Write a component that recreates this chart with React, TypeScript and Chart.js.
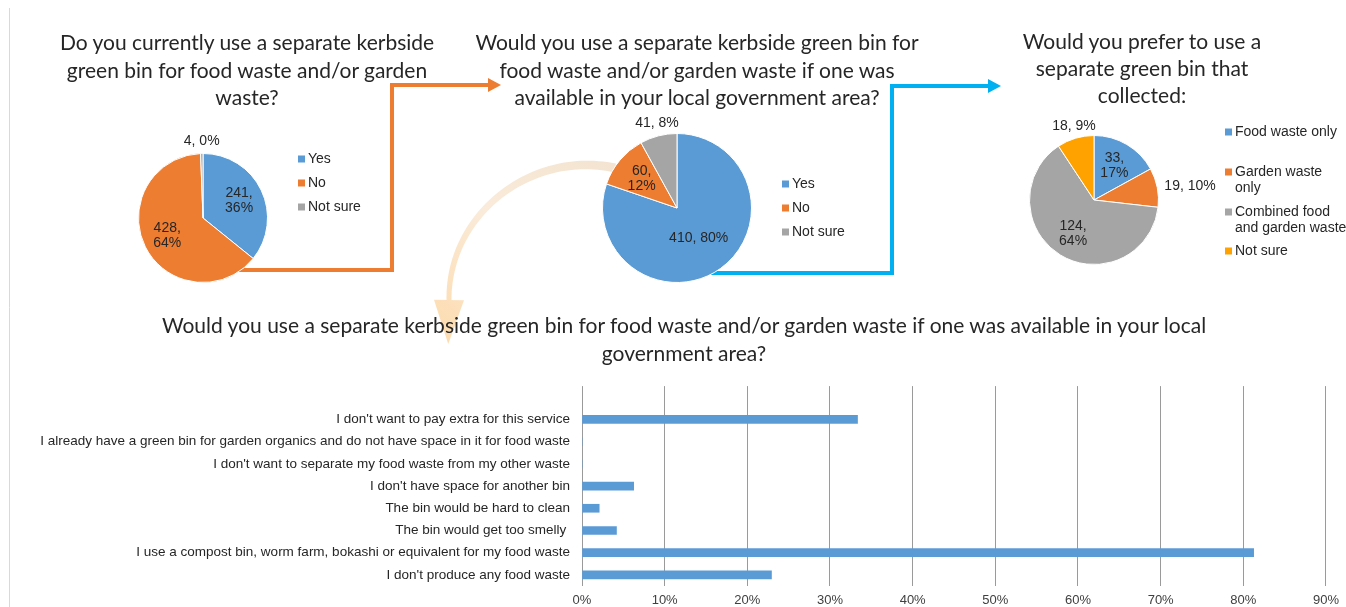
import React, { useEffect, useRef } from "react";
import { Chart, registerables } from "chart.js";

Chart.register(...registerables);

// ---------- DATA ----------
const pie1Title = ["Do you currently use a separate kerbside", "green bin for food waste and/or garden", "waste?"];
const pie1Legend = [["Yes"], ["No"], ["Not sure"]];
const pie1Values = [241, 428, 4];
const pie1Percents = [36, 64, 0];

const pie2Title = ["Would you use a separate kerbside green bin for", "food waste and/or garden waste if one was", "available in your local government area?"];
const pie2Legend = [["Yes"], ["No"], ["Not sure"]];
const pie2Values = [410, 60, 41];
const pie2Percents = [80, 12, 8];

const pie3Title = ["Would you prefer to use a", "separate green bin that", "collected:"];
const pie3Legend = [["Food waste only"], ["Garden waste", "only"], ["Combined food", "and garden waste"], ["Not sure"]];
const pie3Values = [33, 19, 124, 18];
const pie3Percents = [17, 10, 64, 9];

const barTitle = ["Would you use a separate kerbside green bin for food waste and/or garden waste if one was available in your local", "government area?"];
const barCategories = [
  "",
  "I don't want to pay extra for this service",
  "I already have a green bin for garden organics and do not have space in it for food waste",
  "I don't want to separate my food waste from my other waste",
  "I don't have space for another bin",
  "The bin would be hard to clean",
  "The bin would get too smelly ",
  "I use a compost bin, worm farm, bokashi or equivalent for my food waste",
  "I don't produce any food waste",
];
const barValues = [null, 33.33, 0, 0, 6.25, 2.08, 4.17, 81.25, 22.92];
const xAxisMax = 90;
const xAxisStep = 10;

// ---------- STYLE ----------
const FONT = '"Liberation Sans", Arial, sans-serif';
const TITLE_FONT = 'Lato, "Open Sans", sans-serif';
const TEXT = "#262626";
const pieColors3 = ["#5B9BD5", "#ED7D31", "#A5A5A5"];
const pieColors4 = ["#5B9BD5", "#ED7D31", "#A5A5A5", "#FFA200"];

type PieLayout = {
  left: number; top: number; width: number; height: number;
  cx: number; cy: number; r: number;
  legendX: number; legendY: number[];
};

const pie1Layout: PieLayout = { left: 100, top: 120, width: 340, height: 180, cx: 203, cy: 218, r: 65, legendX: 298, legendY: [159, 183, 207] };
const pie2Layout: PieLayout = { left: 560, top: 108, width: 320, height: 192, cx: 677, cy: 208, r: 75, legendX: 782, legendY: [184, 208, 232] };
const pie3Layout: PieLayout = { left: 1000, top: 110, width: 346, height: 180, cx: 1094, cy: 200, r: 65, legendX: 1225, legendY: [132, 172, 212, 251] };

function PieChart({ values, percents, legend, colors, layout }: { values: number[]; percents: number[]; legend: string[][]; colors: string[]; layout: PieLayout }) {
  const ref = useRef<HTMLCanvasElement>(null);
  useEffect(() => {
    const { left, top, width, height, cx, cy, r } = layout;
    const total = values.reduce((a, b) => a + b, 0);
    const labelPlugin = {
      id: "pieLabels",
      afterDatasetsDraw(chart: any) {
        const ctx = chart.ctx as CanvasRenderingContext2D;
        const meta = chart.getDatasetMeta(0);
        ctx.save();
        ctx.font = `14px ${FONT}`;
        ctx.fillStyle = TEXT;
        meta.data.forEach((arc: any, i: number) => {
          const p = arc.getProps(["x", "y", "startAngle", "endAngle", "outerRadius"], true);
          const mid = (p.startAngle + p.endAngle) / 2;
          const c = Math.cos(mid), s = Math.sin(mid);
          const frac = values[i] / total;
          if (frac < 0.11) {
            const ax = p.x + c * p.outerRadius * 1.08;
            const ay = p.y + s * p.outerRadius * 1.08;
            const text = `${values[i]}, ${percents[i]}%`;
            if (Math.abs(c) > 0.7) {
              ctx.textAlign = c > 0 ? "left" : "right";
              ctx.textBaseline = "middle";
              ctx.fillText(text, ax + (c > 0 ? 2 : -2), ay);
            } else {
              ctx.textAlign = "center";
              ctx.textBaseline = s < 0 ? "bottom" : "top";
              ctx.fillText(text, ax, ay);
            }
          } else {
            const k = frac > 0.7 ? 0.5 : 0.62;
            const ix = p.x + c * p.outerRadius * k;
            const iy = p.y + s * p.outerRadius * k;
            ctx.textAlign = "center";
            ctx.textBaseline = "middle";
            if (frac < 0.7) {
              ctx.fillText(`${values[i]},`, ix, iy - 7.5);
              ctx.fillText(`${percents[i]}%`, ix, iy + 7.5);
            } else {
              ctx.fillText(`${values[i]}, ${percents[i]}%`, ix, iy);
            }
          }
        });
        legend.forEach((lines, i) => {
          const lx = layout.legendX - left;
          const ly = layout.legendY[i] - top;
          ctx.fillStyle = colors[i];
          ctx.fillRect(lx, ly - 3.5, 7, 7);
          ctx.fillStyle = TEXT;
          ctx.textAlign = "left";
          ctx.textBaseline = "middle";
          lines.forEach((ln, k) => ctx.fillText(ln, lx + 10, ly + k * 16));
        });
        ctx.restore();
      },
    };
    const chart = new Chart(ref.current as HTMLCanvasElement, {
      type: "pie",
      data: {
        labels: legend.map((l) => l.join(" ")),
        datasets: [{ data: values, backgroundColor: colors, borderColor: "#ffffff", borderWidth: 1, hoverOffset: 0, offset: 0 }],
      },
      options: {
        responsive: false,
        animation: false,
        layout: { padding: { left: cx - r - left, right: left + width - (cx + r), top: cy - r - top, bottom: top + height - (cy + r) } },
        plugins: { legend: { display: false }, tooltip: { enabled: false }, title: { display: false } },
      },
      plugins: [labelPlugin],
    } as any);
    return () => chart.destroy();
  }, []);
  return (
    <canvas
      ref={ref}
      width={layout.width}
      height={layout.height}
      style={{ position: "absolute", left: layout.left, top: layout.top, width: layout.width, height: layout.height }}
    />
  );
}

function BarChart() {
  const ref = useRef<HTMLCanvasElement>(null);
  useEffect(() => {
    const chart = new Chart(ref.current as HTMLCanvasElement, {
      type: "bar",
      data: {
        labels: barCategories,
        datasets: [{ data: barValues, backgroundColor: "#5B9BD5", borderWidth: 0, barThickness: 8 }],
      },
      options: {
        indexAxis: "y",
        responsive: false,
        animation: false,
        layout: { padding: { top: 1, right: 19, left: 0, bottom: 0 } },
        plugins: { legend: { display: false }, tooltip: { enabled: false } },
        scales: {
          x: {
            min: 0,
            max: xAxisMax,
            ticks: { stepSize: xAxisStep, callback: (v: any) => v + "%", font: { family: FONT, size: 13 }, color: "#404040", padding: 7, maxRotation: 0 },
            grid: { color: "#9a9a9a", drawTicks: false, lineWidth: 1 },
            border: { display: false },
            afterFit: (s: any) => { s.height = 21; },
          },
          y: {
            ticks: { autoSkip: false, font: { family: FONT, size: 13.5 }, color: TEXT, padding: 12 },
            grid: { display: false, drawTicks: false },
            border: { display: false },
            afterFit: (s: any) => { s.width = 572; },
          },
        },
      },
    } as any);
    return () => chart.destroy();
  }, []);
  return <canvas ref={ref} width={1336} height={241} style={{ position: "absolute", left: 10, top: 366, width: 1336, height: 241 }} />;
}

function Background() {
  const ref = useRef<HTMLCanvasElement>(null);
  useEffect(() => {
    const ctx = (ref.current as HTMLCanvasElement).getContext("2d") as CanvasRenderingContext2D;
    ctx.clearRect(0, 0, 1346, 607);
    // left frame line
    ctx.strokeStyle = "#d9d9d9";
    ctx.lineWidth = 1;
    ctx.beginPath();
    ctx.moveTo(9.5, 8);
    ctx.lineTo(9.5, 607);
    ctx.stroke();

    const elbow = (pts: number[][], color: string) => {
      ctx.strokeStyle = color;
      ctx.lineWidth = 4;
      ctx.lineJoin = "miter";
      ctx.beginPath();
      ctx.moveTo(pts[0][0], pts[0][1]);
      for (let i = 1; i < pts.length; i++) ctx.lineTo(pts[i][0], pts[i][1]);
      ctx.stroke();
      const [tx, ty] = pts[pts.length - 1];
      ctx.fillStyle = color;
      ctx.beginPath();
      ctx.moveTo(tx + 13, ty);
      ctx.lineTo(tx, ty - 7);
      ctx.lineTo(tx, ty + 7);
      ctx.closePath();
      ctx.fill();
    };
    elbow([[225, 270], [392, 270], [392, 85], [488, 85]], "#ED7D31");
    elbow([[700, 273], [892, 273], [892, 86], [988, 86]], "#00B0F0");

    // curved arrow
    const P0 = [615, 168], C1 = [530, 150], C2 = [448, 215], P3 = [449, 300];
    const bez = (t: number) => {
      const u = 1 - t;
      return [
        u * u * u * P0[0] + 3 * u * u * t * C1[0] + 3 * u * t * t * C2[0] + t * t * t * P3[0],
        u * u * u * P0[1] + 3 * u * u * t * C1[1] + 3 * u * t * t * C2[1] + t * t * t * P3[1],
      ];
    };
    const N = 60;
    const outer: number[][] = [], inner: number[][] = [];
    for (let i = 0; i <= N; i++) {
      const t = i / N;
      const a = bez(Math.max(0, t - 0.005)), b = bez(Math.min(1, t + 0.005));
      let dx = b[0] - a[0], dy = b[1] - a[1];
      const len = Math.hypot(dx, dy) || 1;
      dx /= len; dy /= len;
      const nx = -dy, ny = dx;
      const w = (9 - 4 * t) / 2;
      const p = bez(t);
      outer.push([p[0] + nx * w, p[1] + ny * w]);
      inner.push([p[0] - nx * w, p[1] - ny * w]);
    }
    const grad = ctx.createLinearGradient(615, 160, 450, 345);
    grad.addColorStop(0, "#F3E3D0");
    grad.addColorStop(0.5, "#FAEBDA");
    grad.addColorStop(1, "#FDDCB0");
    ctx.fillStyle = grad;
    ctx.beginPath();
    ctx.moveTo(outer[0][0], outer[0][1]);
    outer.forEach((p) => ctx.lineTo(p[0], p[1]));
    for (let i = inner.length - 1; i >= 0; i--) ctx.lineTo(inner[i][0], inner[i][1]);
    ctx.closePath();
    ctx.fill();
    // head
    const end = bez(1), pre = bez(0.97);
    let dx = end[0] - pre[0], dy = end[1] - pre[1];
    const l = Math.hypot(dx, dy);
    dx /= l; dy /= l;
    const px = -dy, py = dx;
    ctx.beginPath();
    ctx.moveTo(end[0] + px * 15, end[1] + py * 15);
    ctx.lineTo(end[0] - px * 15, end[1] - py * 15);
    ctx.lineTo(end[0] + dx * 44, end[1] + dy * 44);
    ctx.closePath();
    ctx.fill();
  }, []);
  return <canvas ref={ref} width={1346} height={607} style={{ position: "absolute", left: 0, top: 0, width: 1346, height: 607 }} />;
}

function Title({ lines, cx, top, lineHeight }: { lines: string[]; cx: number; top: number; lineHeight: number }) {
  return (
    <div
      style={{
        position: "absolute",
        left: cx - 700,
        width: 1400,
        top,
        textAlign: "center",
        fontFamily: TITLE_FONT,
        fontSize: 21,
        lineHeight: `${lineHeight}px`,
        color: TEXT,
        whiteSpace: "nowrap",
        pointerEvents: "none",
      }}
    >
      {lines.map((ln, i) => (
        <div key={i}>{ln}</div>
      ))}
    </div>
  );
}

export default function App() {
  return (
    <div style={{ position: "fixed", left: 0, top: 0, width: 1346, height: 607, background: "#ffffff", overflow: "hidden" }}>
      <Background />
      <BarChart />
      <PieChart values={pie1Values} percents={pie1Percents} legend={pie1Legend} colors={pieColors3} layout={pie1Layout} />
      <PieChart values={pie2Values} percents={pie2Percents} legend={pie2Legend} colors={pieColors3} layout={pie2Layout} />
      <PieChart values={pie3Values} percents={pie3Percents} legend={pie3Legend} colors={pieColors4} layout={pie3Layout} />
      <Title lines={pie1Title} cx={247} top={28} lineHeight={27.5} />
      <Title lines={pie2Title} cx={697} top={28} lineHeight={27.5} />
      <Title lines={pie3Title} cx={1142} top={26.5} lineHeight={27} />
      <Title lines={barTitle} cx={684} top={311} lineHeight={28} />
    </div>
  );
}
